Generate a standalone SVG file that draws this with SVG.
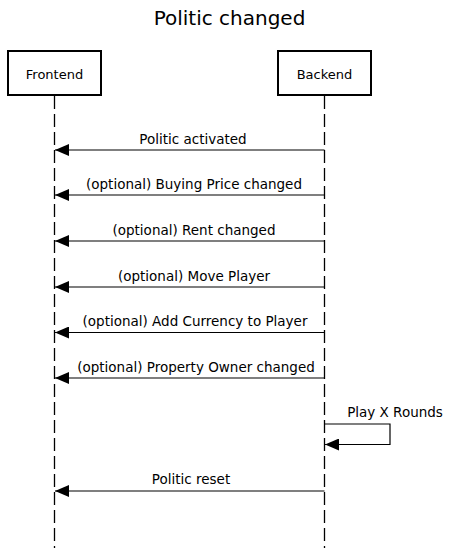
<svg xmlns="http://www.w3.org/2000/svg" width="451" height="548" viewBox="0 0 451 548">
<defs>
<style>
text{font-family:"DejaVu Sans",sans-serif;fill:#000}
.title{font-size:20px;text-anchor:middle}
.actor rect{fill:#fff;stroke:#000;stroke-width:2}
.actor text{font-size:13px;text-anchor:middle}
.life{stroke:#000;stroke-width:1.3;stroke-dasharray:13,5;fill:none}
.msg{stroke:#000;stroke-width:1.2;fill:none}
.lbl{font-size:13.5px;text-anchor:middle}
</style>
<marker id="ah" markerWidth="14" markerHeight="12" refX="14" refY="6" orient="auto" markerUnits="userSpaceOnUse" viewBox="0 0 14 12">
<path d="M14,6 L0,0 L0,12 Z" fill="#000"/>
</marker>
</defs>
<rect width="451" height="548" fill="#fff"/>
<text class="title" x="229.5" y="25">Politic changed</text>
<g id="lifelines">
<line class="life" x1="54.5" y1="96" x2="54.5" y2="548"/>
<line class="life" x1="324.5" y1="96" x2="324.5" y2="548"/>
</g>
<g id="frontend" class="actor">
<rect x="8" y="51" width="93" height="44"/>
<text x="54.5" y="78.5">Frontend</text>
</g>
<g id="backend" class="actor">
<rect x="278" y="51" width="93" height="44"/>
<text x="324.5" y="78.5">Backend</text>
</g>
<g id="connectors">
<line class="msg" x1="324.5" y1="150" x2="55" y2="150" marker-end="url(#ah)"/>
<line class="msg" x1="324.5" y1="195" x2="55" y2="195" marker-end="url(#ah)"/>
<line class="msg" x1="324.5" y1="241" x2="55" y2="241" marker-end="url(#ah)"/>
<line class="msg" x1="324.5" y1="287" x2="55" y2="287" marker-end="url(#ah)"/>
<line class="msg" x1="324.5" y1="332.5" x2="55" y2="332.5" marker-end="url(#ah)"/>
<line class="msg" x1="324.5" y1="378" x2="55" y2="378" marker-end="url(#ah)"/>
<polyline class="msg" points="324.5,424 390,424 390,444.5 325,444.5" marker-end="url(#ah)"/>
<line class="msg" x1="324.5" y1="491" x2="55" y2="491" marker-end="url(#ah)"/>
</g>
<g id="labels">
<text class="lbl" x="193" y="143.5">Politic activated</text>
<text class="lbl" x="194" y="189">(optional) Buying Price changed</text>
<text class="lbl" x="194" y="235">(optional) Rent changed</text>
<text class="lbl" x="194" y="280.5">(optional) Move Player</text>
<text class="lbl" x="195" y="326">(optional) Add Currency to Player</text>
<text class="lbl" x="196" y="372">(optional) Property Owner changed</text>
<text class="lbl" x="395" y="416.5">Play X Rounds</text>
<text class="lbl" x="191" y="484">Politic reset</text>
</g>
</svg>
